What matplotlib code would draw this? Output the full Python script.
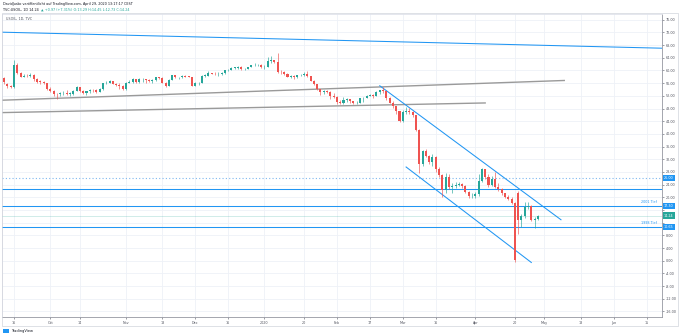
import numpy as np
import pandas as pd
import matplotlib
matplotlib.use("Agg")
import matplotlib.pyplot as plt
import matplotlib.transforms as mtransforms
from matplotlib.patches import Rectangle

W, H = 680, 336
GREEN = "#26a69a"
RED = "#ef5350"
BLUE = "#2196f3"
GRAY_LINE = "#9a9a9a"
GRID = "#eef1f7"
TXT = "#50535e"

# bar calendar of the feed: weekdays, minus days with no bar
no_bar_days = ["2019-12-25", "2020-01-01", "2020-04-10"]

# daily OHLC, 2019-09-11 .. 2020-04-29
opens = [
    # Sep
    57.7, 55.7, 55.0, 54.7, 61.7, 59.2, 58.1, 58.3, 58.2, 58.6, 57.2, 56.5, 56.4, 55.9,
    # Oct
    54.1, 53.6, 52.6, 52.5, 52.8, 52.8, 52.6, 52.6, 53.6, 54.7, 53.6, 52.8, 53.4, 53.9,
    53.8, 53.3, 54.2, 56.0, 56.2, 56.7, 55.8, 55.5, 55.1,
    # Nov
    54.2, 56.2, 56.5, 57.2, 56.4, 57.2, 57.2, 56.9, 56.8, 57.1, 57.8, 57.7, 56.1, 55.2,
    57.1, 58.6, 57.8, 58.0, 58.4, 58.1, 58.0,
    # Dec
    55.2, 56.0, 56.1, 58.4, 58.4, 59.2, 59.0, 58.8, 58.8, 59.2, 60.1, 60.2, 60.9, 60.9,
    61.2, 60.4, 60.5, 61.1, 61.7, 61.7, 61.7,
    # Jan
    61.1, 61.2, 63.0, 63.3, 62.7, 59.6, 59.5, 59.0, 58.1, 58.2, 57.8, 58.5, 58.6, 58.8,
    58.3, 56.7, 55.6, 54.2, 53.1, 53.5, 53.3, 52.1,
    # Feb
    51.6, 50.1, 49.6, 50.8, 51.0, 50.3, 49.6, 49.9, 51.2, 51.4, 52.1, 52.3, 52.1, 53.3,
    53.8, 53.4, 51.4, 49.9, 48.7, 47.1,
    # Mar
    44.2, 46.8, 47.2, 46.8, 45.9, 41.3, 30.4, 34.5, 33.0, 31.2, 32.8, 29.0, 27.0, 22.3,
    26.5, 23.4, 23.6, 24.0, 24.3, 23.5, 21.8, 20.4,
    # Apr
    20.5, 21.1, 25.1, 28.8, 26.3, 24.0, 25.9, 23.4, 22.5, 21.2, 20.2, 19.6, 18.3, 21.3,
    12.8, 14.0, 17.0, 17.3, 12.8, 13.29,
]
highs = [
    58.0, 56.2, 55.3, 63.2, 62.3, 59.6, 59.0, 59.0, 59.2, 58.8, 57.6, 56.9, 56.7, 56.1,
    54.9, 53.7, 52.8, 53.2, 53.6, 53.7, 53.3, 53.8, 55.0, 54.8, 53.7, 53.6, 54.1, 54.1,
    54.2, 54.4, 56.1, 56.6, 56.9, 56.7, 55.9, 55.9, 55.3,
    56.3, 56.9, 57.5, 57.3, 57.6, 57.6, 57.3, 57.4, 57.3, 57.9, 58.1, 57.9, 56.3, 57.4,
    58.7, 58.7, 58.1, 58.6, 58.6, 58.2, 58.1,
    56.3, 56.4, 58.6, 59.0, 59.9, 59.3, 59.4, 59.5, 59.4, 60.2, 60.4, 61.0, 61.2, 61.4,
    61.4, 60.8, 61.2, 61.8, 62.3, 62.0, 61.9,
    61.6, 64.1, 64.7, 63.4, 65.4, 60.0, 59.8, 59.2, 58.6, 58.5, 58.6, 59.0, 59.5, 59.7,
    58.4, 56.9, 55.8, 54.3, 54.0, 54.0, 53.4, 52.8,
    51.8, 50.6, 51.5, 51.3, 51.1, 50.4, 50.3, 51.3, 51.6, 52.2, 52.5, 52.6, 53.5, 54.0,
    54.9, 53.5, 51.6, 50.3, 48.8, 47.3,
    47.4, 48.6, 48.1, 47.2, 46.0, 41.5, 35.0, 35.3, 33.4, 33.6, 33.0, 29.5, 27.5, 27.8,
    27.2, 24.5, 24.8, 24.9, 24.6, 23.8, 22.0, 21.3,
    21.6, 27.2, 29.1, 29.0, 27.5, 26.6, 28.0, 24.5, 22.8, 21.3, 20.6, 20.0, 18.6, 22.0,
    14.8, 18.4, 18.6, 17.5, 13.7, 14.45,
]
lows = [
    55.6, 54.6, 54.5, 54.5, 58.9, 57.8, 57.8, 57.9, 57.8, 56.7, 55.9, 55.8, 55.6, 53.8,
    53.2, 52.1, 51.0, 52.0, 52.4, 52.2, 52.0, 52.3, 53.4, 53.2, 52.6, 52.4, 52.9, 53.3,
    53.0, 53.1, 53.8, 55.6, 55.9, 55.6, 55.0, 54.3, 53.7,
    54.0, 55.9, 56.1, 56.0, 56.0, 56.4, 56.2, 56.5, 56.2, 56.7, 57.3, 55.9, 54.9, 55.0,
    56.9, 57.7, 57.4, 57.6, 57.8, 57.9, 55.0,
    55.0, 55.4, 56.0, 58.0, 58.3, 58.8, 58.6, 58.3, 58.5, 59.0, 59.8, 60.0, 60.4, 60.6,
    60.3, 60.1, 60.4, 61.0, 61.4, 61.4, 60.7,
    60.6, 61.1, 62.4, 62.4, 59.3, 58.8, 58.7, 57.9, 57.7, 57.4, 57.7, 58.3, 58.4, 58.0,
    56.6, 55.4, 53.9, 52.2, 52.6, 52.9, 50.9, 51.3,
    49.4, 49.3, 49.5, 50.1, 49.9, 49.3, 49.4, 49.8, 50.2, 51.2, 51.8, 51.4, 52.0, 52.7,
    53.0, 50.8, 49.6, 48.3, 46.2, 43.6,
    43.9, 46.2, 46.3, 45.4, 41.0, 27.7, 30.0, 32.6, 30.6, 30.0, 28.0, 26.4, 20.1, 21.5,
    22.7, 21.2, 23.0, 23.5, 22.9, 21.5, 19.9, 19.8,
    19.9, 20.3, 24.8, 25.8, 23.3, 23.6, 23.0, 21.9, 20.8, 19.9, 19.2, 17.9, -0.4, 8.5,
    10.5, 13.6, 16.2, 12.4, 10.3, 12.73,
]
closes = [
    56.5, 55.0, 54.7, 61.7, 59.2, 58.1, 58.3, 58.2, 58.6, 57.2, 56.5, 56.4, 55.9, 54.1,
    53.6, 52.6, 52.5, 52.8, 52.8, 52.6, 52.6, 53.6, 54.7, 53.6, 52.8, 53.4, 53.9, 53.8,
    53.3, 54.2, 56.0, 56.2, 56.7, 55.8, 55.5, 55.1, 54.2,
    56.2, 56.5, 57.2, 56.4, 57.2, 57.2, 56.9, 56.8, 57.1, 57.8, 57.7, 56.1, 55.2, 57.1,
    58.6, 57.8, 58.0, 58.4, 58.1, 58.0, 55.2,
    56.0, 56.1, 58.4, 58.4, 59.2, 59.0, 58.8, 58.8, 59.2, 60.1, 60.2, 60.9, 60.9, 61.2,
    60.4, 60.5, 61.1, 61.7, 61.7, 61.7, 61.1,
    61.2, 63.0, 63.3, 62.7, 59.6, 59.5, 59.0, 58.1, 58.2, 57.8, 58.5, 58.6, 58.8, 58.3,
    56.7, 55.6, 54.2, 53.1, 53.5, 53.3, 52.1, 51.6,
    50.1, 49.6, 50.8, 51.0, 50.3, 49.6, 49.9, 51.2, 51.4, 52.1, 52.3, 52.1, 53.3, 53.8,
    53.4, 51.4, 49.9, 48.7, 47.1, 44.2,
    46.8, 47.2, 46.8, 45.9, 41.3, 30.4, 34.5, 33.0, 31.2, 32.8, 29.0, 27.0, 22.3, 26.5,
    23.4, 23.6, 24.0, 24.3, 23.5, 21.8, 20.4, 20.5,
    21.1, 25.1, 28.8, 26.3, 24.0, 25.9, 23.4, 22.5, 21.2, 20.2, 19.6, 18.3, 0.1, 12.8,
    14.0, 17.0, 17.3, 12.8, 13.27, 14.24,
]

# drawings: (date, price) anchors
top_line = [("2019-09-11", 72.07), ("2020-06-01", 67.40)]
gray_upper = [("2019-09-11", 50.65), ("2020-05-11", 56.85)]
gray_lower = [("2019-09-11", 46.73), ("2020-04-06", 49.76)]
channel_upper = [("2020-02-20", 55.18), ("2020-05-08", 12.92)]
channel_lower = [("2020-03-03", 29.56), ("2020-04-27", -0.56)]

level_dotted = 26.00
level_plain = 22.60
level_2001 = 17.30
level_1998 = 10.65
last_price = 14.24

date_ticks = [
    ("2019-09-16", "16"), ("2019-10-01", "Oct"), ("2019-10-14", "14"),
    ("2019-11-01", "Nov"), ("2019-11-18", "18"), ("2019-12-02", "Dec"),
    ("2019-12-16", "16"), ("2020-01-02", "2020"), ("2020-01-20", "20"),
    ("2020-02-03", "Feb"), ("2020-02-17", "17"), ("2020-03-02", "Mar"),
    ("2020-03-16", "16"), ("2020-04-01", "Apr"), ("2020-04-20", "20"),
    ("2020-05-01", "May"), ("2020-05-18", "18"), ("2020-06-01", "Jun"),
    ("2020-06-15", "15"),
]
price_ticks = list(range(-16, 80, 4))

days = pd.bdate_range("2019-09-11", "2020-06-30")
days = days[~days.isin(pd.to_datetime(no_bar_days))]
pos = {d.strftime("%Y-%m-%d"): i for i, d in enumerate(days)}

o = np.array(opens)
h = np.array(highs)
l = np.array(lows)
c = np.array(closes)
xs = np.arange(len(c))

fig = plt.figure(figsize=(W / 100, H / 100), dpi=100)
ax = fig.add_axes([2 / W, (H - 317) / H, 660 / W, 303 / H])
ax.set_xlim(-0.64, 199.66)
ax.set_ylim(-17.76, 77.82)

# grid
for d, _ in date_ticks:
    ax.axvline(pos[d], color=GRID, lw=0.6, zorder=0)
for p in price_ticks:
    ax.axhline(p, color=GRID, lw=0.6, zorder=0)

# candles
cols = np.where(c >= o, GREEN, RED)
ax.vlines(xs, l, h, colors=cols, lw=0.45, zorder=4)
body = np.maximum(np.abs(c - o), 0.15)
ax.bar(xs, body, bottom=np.minimum(o, c), width=0.62, color=cols, lw=0, zorder=5)


def xy(pt):
    return pos[pt[0]], pt[1]


# trend lines
p0, p1 = xy(top_line[0]), xy(top_line[1])
ax.axline(p0, p1, color=BLUE, lw=0.75, zorder=3)

for seg in (gray_upper, gray_lower):
    (x0, y0), (x1, y1) = xy(seg[0]), xy(seg[1])
    k = (y1 - y0) / (x1 - x0)
    ax.plot([-3, x1], [y0 + k * (-3 - x0), y1], color=GRAY_LINE, lw=1.0, zorder=3)

for seg in (channel_upper, channel_lower):
    (x0, y0), (x1, y1) = xy(seg[0]), xy(seg[1])
    ax.plot([x0, x1], [y0, y1], color=BLUE, lw=0.75, zorder=3)

# horizontal levels
ax.axhline(level_dotted, color="#7fb8ef", lw=0.8, ls=(0, (1, 2)), zorder=3)
ax.axhline(level_plain, color=BLUE, lw=0.75, zorder=3)
ax.axhline(level_2001, color=BLUE, lw=0.75, zorder=3)
ax.axhline(level_1998, color=BLUE, lw=0.75, zorder=3)
ax.axhline(last_price, color=GREEN, lw=0.6, alpha=0.25, zorder=3)

ax.text(198, level_2001 + 0.6, "2001 Tief", color=BLUE, fontsize=2.4,
        ha="right", va="bottom", zorder=6)
ax.text(198, level_1998 + 0.6, "1998 Tief", color=BLUE, fontsize=2.4,
        ha="right", va="bottom", zorder=6)

# axes
ax.yaxis.tick_right()
ax.set_yticks(price_ticks)
ax.set_yticklabels(["" if p in (12, 16) else f"{p:.2f}" for p in price_ticks])
ax.set_xticks([pos[d] for d, _ in date_ticks])
ax.set_xticklabels([t for _, t in date_ticks])
ax.tick_params(axis="both", labelsize=2.4, colors=TXT, length=1.5, width=0.4, pad=1.5)
for s in ("left", "top"):
    ax.spines[s].set_color("#e0e3eb")
    ax.spines[s].set_linewidth(0.6)
for s in ("right", "bottom"):
    ax.spines[s].set_color("#9598a1")
    ax.spines[s].set_linewidth(0.6)

# price badges on the scale
trans = mtransforms.blended_transform_factory(ax.transAxes, ax.transData)
for val, fc in ((level_dotted, BLUE), (level_2001, BLUE),
                (last_price, GREEN), (level_1998, BLUE)):
    ax.text(1.003, val, f"{val:.2f}", transform=trans, fontsize=2.4,
            color="white", ha="left", va="center", zorder=10, clip_on=False,
            bbox=dict(boxstyle="square,pad=0.35", fc=fc, ec="none"))

# outer frame
fig.patches.append(Rectangle((2 / W, (H - 326) / H), 676 / W, 313 / H,
                             transform=fig.transFigure, fill=False,
                             ec="#d1d4dc", lw=0.5))

# header
fig.text(3 / W, 1 - 4 / H, "DavidJusko veröffentlicht auf TradingView.com, April 29, 2020 13:17:17 CEST",
         fontsize=2.4, color="#131722", va="center")
sym = fig.text(3 / W, 1 - 10 / H, "TVC:USOIL, 1D 14.24", fontsize=2.4,
               color="#131722", va="center")
fig.canvas.draw()
x_next = sym.get_window_extent().x1 + 2
fig.text(x_next / W, 1 - 10 / H, "▲ +0.97 (+7.31%) O:13.29 H:14.45 L:12.73 C:14.24",
         fontsize=2.4, color=GREEN, va="center")
ax.text(0.006, 0.99, "USOIL, 1D, TVC", transform=ax.transAxes, fontsize=2.4,
        color=TXT, ha="left", va="top")

# footer
fig.patches.append(Rectangle((3 / W, 1 - 333 / H), 6 / W, 4 / H,
                             transform=fig.transFigure, fc=BLUE, ec="none"))
fig.text(11 / W, 1 - 331 / H, "TradingView", fontsize=2.6, color="#131722", va="center")

fig.savefig("out.png", dpi=100)
